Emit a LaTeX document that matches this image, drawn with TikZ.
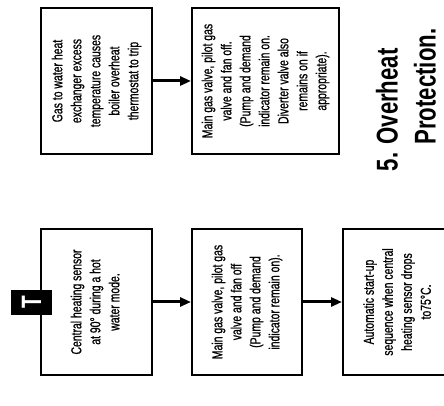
\documentclass[tikz,border=0pt]{standalone}
\usepackage{graphicx}
\usepackage{fontspec}
\setmainfont{Liberation Serif}
\newfontfamily\boxfont[FakeStretch=0.72,FakeBold=0.8]{Liberation Sans}
\newfontfamily\titlefont[FakeStretch=0.74]{Liberation Sans}
\usetikzlibrary{arrows.meta,positioning}

\newcommand{\upright}[1]{\rotatebox{90}{\begin{tabular}{@{}c@{}}#1\end{tabular}}}

\begin{document}
\begin{tikzpicture}[x=1pt, y=1pt, node distance=38pt, >={Triangle[length=11pt,width=9pt]},
  every node/.style={font=\boxfont\fontsize{14.5}{19}\selectfont}]
\useasboundingbox (0,0) rectangle (444,406);
\node[draw, line width=2pt, minimum width=111pt, minimum height=146pt, inner sep=0pt] (gas) at (96.5,325)
  {\upright{Gas to water heat\\exchanger excess\\temperature causes\\boiler overheat\\thermostat to trip}};
\node[draw, line width=2pt, minimum width=147pt, minimum height=146pt, inner sep=0pt, right=of gas] (offa)
  {\upright{Main gas valve, pilot gas\\valve and fan off.\\(Pump and demand\\indicator remain on.\\Diverter valve also\\remains on if\\appropriate).}};
\node[draw, line width=2pt, minimum width=111pt, minimum height=146pt, inner sep=0pt] (sensor) at (96.5,104)
  {\upright{Central heating sensor\\at 90\textdegree{} during a hot\\water mode.}};
\node[draw, line width=2pt, minimum width=110pt, minimum height=146pt, inner sep=0pt, right=of sensor] (offb)
  {\upright{Main gas valve, pilot gas\\valve and fan off\\(Pump and demand\\indicator remain on).}};
\node[draw, line width=2pt, minimum width=111pt, minimum height=146pt, inner sep=0pt, right=39pt of offb] (restart)
  {\upright{Automatic start-up\\sequence when central\\heating sensor drops\\to75\textdegree C.}};
\node[fill=black, text=white, minimum width=41pt, minimum height=25pt, inner sep=0pt,
  font=\titlefont\bfseries\fontsize{28}{28}\selectfont] (tag) at (31.5,103.5) {\rotatebox{90}{T}};
\node[font=\titlefont\bfseries\fontsize{30}{38}\selectfont] (title) at (409,306)
  {\rotatebox{90}{\begin{tabular}{@{}l@{}}5. Overheat\\\hphantom{5. }Protection.\end{tabular}}};

\draw[->, line width=3pt] (gas) -- (offa);
\draw[->, line width=3pt] (sensor) -- (offb);
\draw[->, line width=3pt] (offb) -- (restart);
\end{tikzpicture}
\end{document}
